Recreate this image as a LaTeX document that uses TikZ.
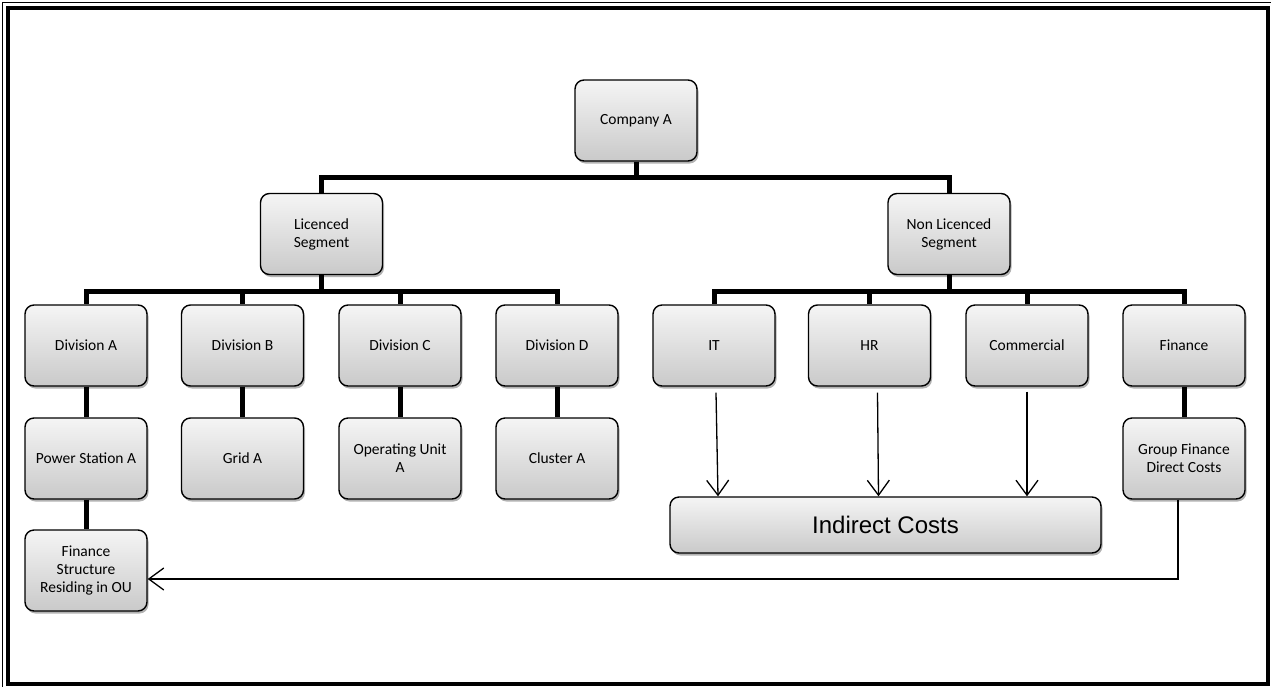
\documentclass[tikz,border=0pt]{standalone}
\usepackage{fontspec}
\setmainfont{Carlito}
\newfontfamily\arialfont{Liberation Sans}
\usetikzlibrary{arrows.meta,shadows}
\tikzset{
  unit/.style={draw=black, line width=1.4pt, rounded corners=9pt,
    top color=gray!8, bottom color=gray!42,
    drop shadow={shadow xshift=1.5pt, shadow yshift=-2.5pt, opacity=0.3, fill=black},
    minimum width=122pt, minimum height=81pt, align=center,
    font=\fontsize{15.5}{18}\selectfont, inner sep=2pt},
  trunk/.style={line width=5pt},
  feed/.style={line width=1.3pt, -{Straight Barb[length=15pt,width=22pt,line width=1.3pt]}}
}
\begin{document}
\begin{tikzpicture}[x=1pt, y=-1pt]
\useasboundingbox (0,0) rectangle (1271,686);
%%%% Frame:
\fill[white] (0,0) rectangle (1271,686);
\draw[line width=1pt] (2.5,2.5) rectangle (1273.5,688.5);
\draw[line width=4pt] (8,8) rectangle (1267.5,683.5);
%%%% Top levels
\node[unit] (company) at (636,120.5) {Company A};
\node[unit] (lic) at (321.5,234) {Licenced\\Segment};
\node[unit] (nonlic) at (949,234) {Non Licenced\\Segment};
%%%% Licenced branch
\node[unit] (diva) at (86,345.5) {Division A};
\node[unit] (divb) at (242.5,345.5) {Division B};
\node[unit] (divc) at (400,345.5) {Division C};
\node[unit] (divd) at (557,345.5) {Division D};
\node[unit] (psa) at (86,458.5) {Power Station A};
\node[unit] (grida) at (242.5,458.5) {Grid A};
\node[unit] (oua) at (400,458.5) {Operating Unit\\A};
\node[unit] (clua) at (557,458.5) {Cluster A};
\node[unit] (fsr) at (86,570.5) {Finance\\Structure\\Residing in OU};
%%%% Non licenced branch
\node[unit] (it) at (714,345.5) {IT};
\node[unit] (hr) at (869.5,345.5) {HR};
\node[unit] (comm) at (1027,345.5) {Commercial};
\node[unit] (fin) at (1184,345.5) {Finance};
\node[unit] (gfd) at (1184,458.5) {Group Finance\\Direct Costs};
\node[unit, minimum width=431pt, minimum height=56pt,
  font=\arialfont\fontsize{24}{29}\selectfont] (ic) at (885.5,525) {Indirect Costs};
%%%% Tree lines
\foreach \kid in {lic,nonlic}
  \draw[trunk] (company.south) -- ++(0,16) -| (\kid.north);
\foreach \kid in {diva,divb,divc,divd}
  \draw[trunk] (lic.south) -- ++(0,16) -| (\kid.north);
\foreach \kid in {it,hr,comm,fin}
  \draw[trunk] (nonlic.south) -- ++(0,16) -| (\kid.north);
\draw[trunk] (diva) -- (psa);
\draw[trunk] (divb) -- (grida);
\draw[trunk] (divc) -- (oua);
\draw[trunk] (divd) -- (clua);
\draw[trunk] (psa) -- (fsr);
\draw[trunk] (fin) -- (gfd);
%%%% Cost arrows
\draw[feed] ([xshift=2pt,yshift=-6pt]it.south) -- ([xshift=4pt]it.south |- ic.north);
\draw[feed] ([xshift=8pt,yshift=-6pt]hr.south) -- ([xshift=9pt]hr.south |- ic.north);
\draw[feed] ([yshift=-5pt]comm.south) -- (comm.south |- ic.north);
\draw[feed] ([xshift=-6pt]gfd.south) |- ([yshift=-8.5pt]fsr.east);
\end{tikzpicture}
\end{document}
